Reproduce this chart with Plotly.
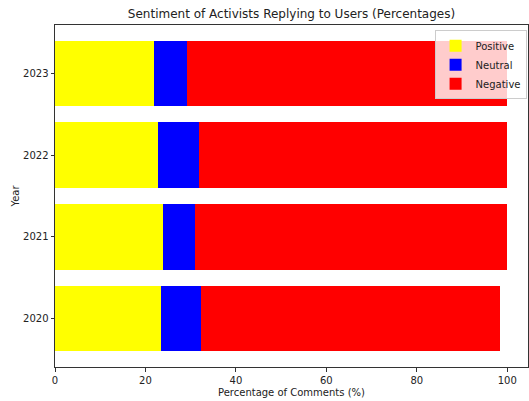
import plotly.graph_objects as go

years = [2020, 2021, 2022, 2023]
positive = [23.5, 23.9, 22.8, 21.9]
neutral = [8.8, 7.1, 9.0, 7.4]
negative = [66.2, 69.0, 68.1, 70.6]

series = [("Positive", positive, "yellow"), ("Neutral", neutral, "blue"), ("Negative", negative, "red")]

fig = go.Figure()
for name, vals, col in series:
    fig.add_trace(go.Bar(y=years, x=vals, name=name, orientation="h",
                         marker=dict(color=col, line=dict(width=0))))

txt = "#222222"
axis_common = dict(showline=True, linecolor="#333333", linewidth=1, mirror=True,
                   ticks="outside", ticklen=3.5, tickcolor="#333333", showgrid=False,
                   zeroline=False, tickfont=dict(family="DejaVu Sans", size=10, color=txt))

fig.update_layout(
    width=529, height=401,
    barmode="stack", bargap=0.2,
    plot_bgcolor="white", paper_bgcolor="white",
    margin=dict(l=55, r=1, t=25, b=34),
    font=dict(family="DejaVu Sans", size=10, color=txt),
    title=dict(text="Sentiment of Activists Replying to Users (Percentages)",
               x=0.5, xref="paper", xanchor="center", yref="container", y=0.975, yanchor="top",
               font=dict(family="DejaVu Sans", size=12, color=txt)),
    xaxis=dict(range=[0, 104.6], tickvals=[0, 20, 40, 60, 80, 100],
               title=dict(text="Percentage of Comments (%)", standoff=4,
                          font=dict(family="DejaVu Sans", size=10)), **axis_common),
    yaxis=dict(range=[2019.41, 2023.59], tickvals=years, ticktext=[str(y) for y in years],
               title=dict(text="Year", standoff=1, font=dict(family="DejaVu Sans", size=10)),
               **axis_common),
    legend=dict(x=0.997, y=0.985, xanchor="right", yanchor="top", traceorder="normal",
                bgcolor="rgba(255,255,255,0.8)", bordercolor="#cccccc", borderwidth=1,
                font=dict(family="DejaVu Sans", size=10), itemwidth=30,
                tracegroupgap=0),
)

fig.write_html("out.html", post_script="document.body.style.margin='0';",
               config={"displayModeBar": False})
